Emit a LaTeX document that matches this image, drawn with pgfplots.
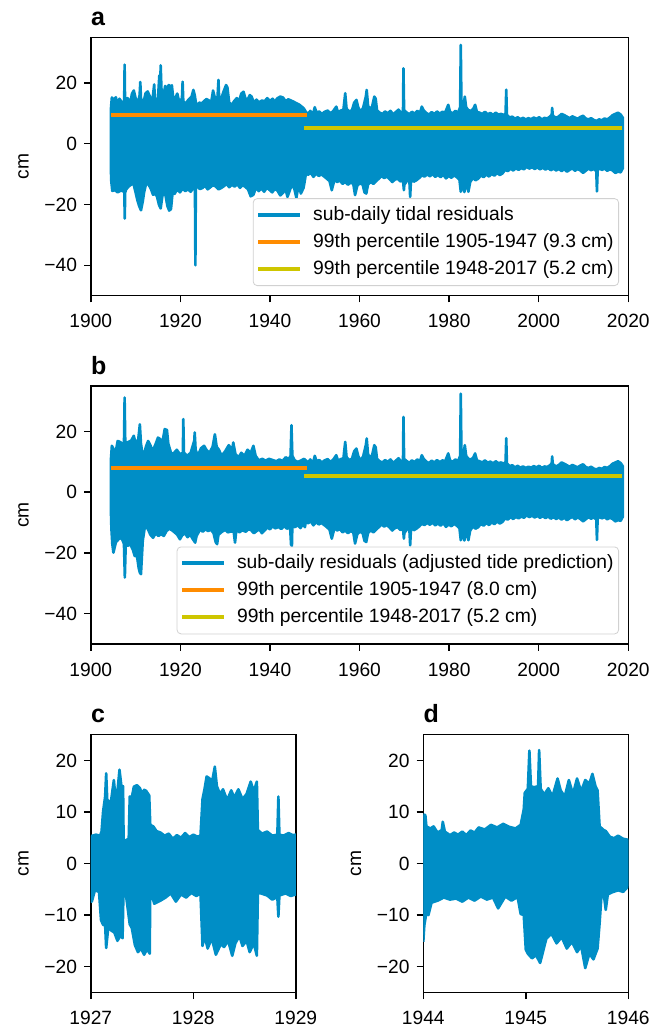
\documentclass[border=0pt]{standalone}
\usepackage{pgfplots}
\pgfplotsset{compat=1.18}
\usepackage{fontspec}
\setmainfont{Liberation Sans}
\definecolor{cblue}{RGB}{0,142,198}
\definecolor{corange}{RGB}{255,140,0}
\definecolor{cyellow}{RGB}{206,198,0}
\pgfplotsset{
  myax/.style={
    scale only axis,
    tick pos=left, tick align=outside,
    major tick length=3.35pt,
    every tick/.style={black, line width=0.75pt},
    axis line style={line width=0.75pt},
    tick label style={font=\fontsize{9.6}{11}\selectfont},
    xticklabel style={yshift=-2.5pt},
    label style={font=\fontsize{9.6}{11}\selectfont},
    ylabel={cm}, ylabel shift=1pt,
    title style={at={(axis description cs:0,1)}, anchor=base west, yshift=0pt, inner sep=0pt, font=\bfseries\fontsize{12.5}{14}\selectfont},
    legend cell align=left,
    legend image code/.code={\draw[##1] (0pt,0pt) -- (21pt,0pt);},
    legend style={draw=black!18, rounded corners=2pt, fill=white, fill opacity=0.8, text opacity=1, font=\fontsize{9.65}{11}\selectfont, inner xsep=1.5pt, inner ysep=1.5pt, column sep=4.5pt, nodes={inner xsep=1pt, inner ysep=2.5pt}},
  },
  blueenv/.style={draw=cblue, fill=cblue, line width=1.3pt, line join=round, forget plot},
}
\newcommand{\lt}[1]{\raisebox{0pt}[7pt][0pt]{#1}}
\begin{document}
\begin{tikzpicture}
\useasboundingbox (0pt,0pt) rectangle (326pt,-514.5pt);
% ---------------- panel a ----------------
\begin{axis}[myax, at={(45.4pt,-147.85pt)}, anchor=south west, width=268.75pt, height=129.2pt,
  xmin=1900, xmax=2020, ymin=-50, ymax=35,
  xtick={1900,1920,1940,1960,1980,2000,2020}, xticklabels={1900,1920,1940,1960,1980,2000,2020},
  ytick={-40,-20,0,20}, yticklabels={−40,−20,0,20}, title={a},
  legend style={at={(1,0)}, anchor=south east, xshift=-4.65pt, yshift=4.85pt}]
\addlegendimage{cblue, line width=2pt}
\addlegendimage{corange, line width=2pt}
\addlegendimage{cyellow, line width=2pt}
\addplot[blueenv] coordinates {
(1904.5,-8.7) (1904.5,11.6) (1904.7,15.2) (1905.2,14.5) (1905.6,15.3) (1906.0,12.5) (1906.4,14.8) (1907.0,13.5) (1907.45,14) (1907.55,26) (1907.65,14) (1908.2,15) (1908.8,13.5) (1909.2,16.5) (1909.6,17.5) (1910.0,15) (1910.5,13.2) (1910.9,16) (1911.05,20.3) (1911.2,15) (1911.7,13) (1912.2,16.5) (1912.7,17.2) (1913.2,15.5) (1913.7,13.5) (1914.15,19.5) (1914.35,14) (1915.0,15) (1915.3,22.5) (1915.45,16) (1915.6,25.8) (1915.8,17) (1916.2,15.5) (1916.6,19) (1917.0,18) (1917.4,19.3) (1917.8,18.8) (1918.1,19.2) (1918.4,15) (1918.8,14.8) (1919.3,16.5) (1919.8,13.5) (1920.35,15) (1920.5,20.4) (1920.65,14) (1921.2,13.2) (1921.8,14.5) (1922.5,15.5) (1922.9,17.7) (1923.2,16) (1923.6,12.2) (1924.2,13.5) (1924.8,13.3) (1925.3,14) (1925.8,14.7) (1926.4,14.2) (1926.9,13.8) (1927.3,17.5) (1927.8,14.5) (1928.3,15.5) (1928.5,21.0) (1928.65,15) (1929.1,14.7) (1929.6,17) (1930.2,19.3) (1930.5,18.5) (1930.9,13.5) (1931.5,12.8) (1932.0,14) (1932.6,15) (1933.1,14) (1933.6,16.5) (1934.1,17.1) (1934.5,15) (1935.0,14.5) (1935.5,16) (1935.9,15.5) (1936.4,13.5) (1937.0,14.5) (1937.5,13.6) (1938.2,14.2) (1938.8,14) (1939.4,15) (1940.0,14) (1940.6,14.8) (1941.1,13.8) (1941.6,14.9) (1942.3,15.5) (1942.9,15.2) (1943.5,14) (1944.1,14.6) (1944.7,14.2) (1945.3,13.8) (1945.9,13.3) (1946.5,12.9) (1947.1,12.2) (1947.6,11.5) (1948.0,10.5)
(1948.5,9.8) (1949.0,10.8) (1949.6,9.6) (1950.0,12.0) (1950.4,10.2) (1951.0,10.6) (1951.6,9.8) (1952.2,10.5) (1952.9,10.9) (1953.5,10.0) (1954.1,10.7) (1954.8,12.2) (1955.2,10.4) (1955.8,10.9) (1956.4,11.2) (1956.8,16.6) (1957.1,11.5) (1957.7,10.6) (1958.3,11.0) (1958.8,13.5) (1959.3,14.4) (1959.7,12) (1960.2,10.5) (1960.8,11.8) (1961.4,15.5) (1961.6,17.7) (1961.9,12.5) (1962.3,11.5) (1962.8,12.2) (1963.3,15.5) (1963.6,14.8) (1963.9,11) (1964.5,10.2) (1965.1,9.8) (1965.7,10.6) (1966.3,10) (1966.9,10.8) (1967.5,9.7) (1968.1,10.4) (1968.7,11.2) (1969.3,10.1) (1969.7,10.5) (1969.8,24.8) (1969.95,11) (1970.5,10.3) (1971.1,9.7) (1971.7,10.5) (1972.3,9.9) (1972.9,10.8) (1973.5,10.2) (1973.9,12.2) (1974.3,11) (1974.9,10.1) (1975.5,9.6) (1976.1,10.4) (1976.7,9.8) (1977.3,10.6) (1977.9,9.9) (1978.5,10.5) (1979.1,10.2) (1979.8,12.8) (1980.2,10.5) (1980.8,10.0) (1981.4,10.8) (1982.0,10.2) (1982.45,12) (1982.6,32.5) (1982.75,13) (1983.2,12.5) (1983.5,15.5) (1983.8,12) (1984.3,11) (1984.9,10.8) (1985.4,11.5) (1985.8,12.8) (1986.2,10.5) (1986.8,10.2) (1987.4,9.8) (1988.0,10.5) (1988.6,9.7) (1989.2,10.1) (1989.8,9.5) (1990.4,10.2) (1991.0,9.6) (1991.6,9.8) (1992.2,9.4) (1992.6,10) (1992.75,17.8) (1992.9,9.5) (1993.5,8.6) (1994.1,8.9) (1994.7,8.2) (1995.3,8.7) (1995.9,8.1) (1996.5,8.5) (1997.1,8.0) (1997.7,8.4) (1998.3,8.1) (1998.9,8.6) (1999.5,8.2) (2000.1,8.7) (2000.7,8.0) (2001.3,8.5) (2001.9,8.3) (2002.5,8.9) (2002.9,9.5) (2003.0,11.8) (2003.15,9.2) (2003.9,8.5) (2004.5,9.0) (2005.1,9.8) (2005.7,9.4) (2006.3,8.9) (2006.9,8.4) (2007.5,9.0) (2008.1,8.6) (2008.7,8.2) (2009.3,8.8) (2009.9,9.2) (2010.5,8.3) (2011.1,8.0) (2011.7,8.4) (2012.3,7.8) (2012.9,7.5) (2013.5,8.0) (2014.1,7.7) (2014.7,8.3) (2015.3,8.0) (2015.9,8.6) (2016.5,9.4) (2017.1,9.8) (2017.7,10.2) (2018.3,9.6) (2018.8,8.5)
(2018.8,-8) (2018.3,-9.4) (2017.7,-9.2) (2017.1,-9.6) (2016.5,-8.8) (2015.9,-8.4) (2015.3,-8.9) (2014.7,-8.2) (2014.1,-8.6) (2013.4,-8.0) (2013.15,-9) (2013.0,-15.7) (2012.85,-9) (2012.3,-8.3) (2011.7,-8.7) (2011.1,-8.2) (2010.5,-8.9) (2009.9,-9.6) (2009.3,-8.8) (2008.7,-8.3) (2008.1,-8.9) (2007.5,-8.1) (2006.9,-8.6) (2006.3,-9.2) (2005.7,-8.4) (2005.1,-9.0) (2004.5,-8.3) (2003.9,-8.8) (2003.3,-8.2) (2002.7,-8.7) (2002.1,-8.0) (2001.5,-8.5) (2000.9,-7.9) (2000.3,-8.4) (1999.7,-7.8) (1999.1,-8.3) (1998.5,-7.7) (1997.9,-8.2) (1997.3,-7.6) (1996.7,-8.4) (1996.1,-8.0) (1995.5,-8.6) (1994.9,-8.1) (1994.3,-8.8) (1993.7,-8.2) (1993.1,-9.0) (1992.5,-8.6) (1991.9,-9.8) (1991.3,-10.3) (1990.7,-9.6) (1990.1,-10.5) (1989.5,-9.9) (1988.9,-10.8) (1988.3,-10.1) (1987.7,-11.0) (1987.1,-10.4) (1986.5,-11.5) (1985.9,-12.0) (1985.3,-11.3) (1984.7,-12.6) (1984.3,-15.8) (1983.9,-12.5) (1983.4,-15.9) (1983.0,-13) (1982.6,-15.8) (1982.3,-11.8) (1981.7,-11.0) (1981.1,-10.4) (1980.5,-11.2) (1979.9,-10.6) (1979.3,-11.4) (1978.7,-10.2) (1978.1,-11.0) (1977.5,-10.3) (1976.9,-10.9) (1976.3,-10.0) (1975.7,-10.7) (1975.1,-10.1) (1974.5,-10.8) (1973.9,-10.4) (1973.3,-11.3) (1972.7,-12.0) (1972.1,-12.5) (1971.5,-11.5) (1971.3,-17.5) (1971.1,-11.5) (1970.6,-12.2) (1970.0,-13.5) (1969.9,-15.3) (1969.7,-12.0) (1969.1,-12.4) (1968.5,-11.5) (1967.9,-11.8) (1967.3,-12.6) (1966.7,-11.6) (1966.1,-10.8) (1965.5,-11.3) (1964.9,-10.6) (1964.3,-11.5) (1963.7,-12.3) (1963.1,-13.2) (1962.5,-12.6) (1961.9,-13.4) (1961.5,-16.4) (1961.1,-16.0) (1960.7,-13.5) (1960.1,-13.0) (1959.5,-13.8) (1959.0,-16.9) (1958.6,-13.2) (1958.0,-12.8) (1957.4,-13.5) (1956.8,-12.6) (1956.2,-13.2) (1955.6,-12.1) (1955.0,-12.6) (1954.4,-11.8) (1953.8,-15.3) (1953.3,-12.3) (1952.7,-11.5) (1952.1,-10.8) (1951.5,-10.1) (1950.9,-10.6) (1950.3,-9.8) (1949.7,-10.9) (1949.1,-9.6) (1948.5,-10.2) (1948.1,-9.0)
(1947.8,-12) (1947.5,-14.5) (1946.9,-16.4) (1946.4,-13.5) (1945.9,-17.8) (1945.4,-14.6) (1944.8,-13.8) (1944.2,-16.3) (1943.9,-17.5) (1943.5,-15.0) (1942.9,-16.2) (1942.3,-17.0) (1941.7,-15.5) (1941.1,-14.8) (1940.5,-16.0) (1939.9,-15.2) (1939.3,-14.5) (1938.7,-15.8) (1938.1,-14.7) (1937.5,-15.6) (1936.9,-14.4) (1936.3,-16.8) (1935.7,-17.3) (1935.1,-15.0) (1934.5,-14.2) (1933.9,-13.6) (1933.3,-14.5) (1932.7,-13.3) (1932.1,-14.1) (1931.5,-13.5) (1930.9,-14.3) (1930.3,-13.2) (1929.7,-14.0) (1929.1,-14.6) (1928.5,-15.0) (1927.9,-14.1) (1927.3,-13.6) (1926.7,-14.3) (1926.1,-15.0) (1925.5,-13.8) (1924.9,-14.6) (1924.3,-14.9) (1923.7,-13.5) (1923.45,-15) (1923.35,-40) (1923.25,-15) (1922.9,-14.5) (1922.3,-15.8) (1921.7,-15.0) (1921.1,-15.6) (1920.5,-14.8) (1919.9,-16.0) (1919.3,-15.0) (1918.7,-16.5) (1918.3,-15.5) (1917.9,-21.5) (1917.5,-22.0) (1917.1,-20.5) (1916.6,-16.3) (1916.0,-17.0) (1915.6,-21.3) (1915.2,-20.0) (1914.8,-17.5) (1914.4,-16.4) (1913.9,-16.8) (1913.4,-14.8) (1912.9,-13.5) (1912.4,-12.8) (1911.9,-16) (1911.6,-19) (1911.2,-21.9) (1910.8,-20.5) (1910.4,-18.6) (1910.0,-16) (1909.5,-13) (1909.0,-13.5) (1908.5,-14.0) (1907.9,-15) (1907.68,-16) (1907.58,-24.6) (1907.48,-16) (1907.1,-15.5) (1906.6,-15.5) (1906.0,-16.0) (1905.4,-15.3) (1904.8,-15.5) (1904.55,-12) (1904.5,-8.7)
};
\addplot[corange, line width=2pt, forget plot] coordinates {(1904.5,9.3) (1948.3,9.3)};
\addplot[cyellow, line width=2pt, forget plot] coordinates {(1947.7,5.2) (2018.5,5.2)};
\legend{\lt{sub-daily tidal residuals}, \lt{99th percentile 1905-1947 (9.3 cm)}, \lt{99th percentile 1948-2017 (5.2 cm)}}
\end{axis}
% ---------------- panel b ----------------
\begin{axis}[myax, at={(45.4pt,-322pt)}, anchor=south west, width=268.75pt, height=129pt,
  xmin=1900, xmax=2020, ymin=-50, ymax=35,
  xtick={1900,1920,1940,1960,1980,2000,2020}, xticklabels={1900,1920,1940,1960,1980,2000,2020},
  ytick={-40,-20,0,20}, yticklabels={−40,−20,0,20}, title={b},
  legend style={at={(1,0)}, anchor=south east, xshift=-4.65pt, yshift=4.85pt}]
\addlegendimage{cblue, line width=2pt}
\addlegendimage{corange, line width=2pt}
\addlegendimage{cyellow, line width=2pt}
\addplot[blueenv] coordinates {
(1904.5,-6.7) (1904.5,10.9) (1904.7,15.3) (1905.0,14.5) (1905.4,12) (1906.0,16.9) (1906.6,16.5) (1907.4,15.5) (1907.55,31.2) (1907.7,16) (1908.3,16.5) (1909.0,17) (1909.6,18.6) (1910.0,16) (1910.6,17.5) (1910.95,22.4) (1911.2,16) (1911.7,11) (1912.3,15) (1912.8,16.9) (1913.3,15.5) (1913.8,13.5) (1914.5,16) (1915.0,18) (1915.5,17.5) (1916.0,16.5) (1916.5,20.8) (1917.0,20.5) (1917.3,16) (1918.0,12.5) (1918.6,13) (1919.2,14) (1919.9,12.5) (1920.55,13) (1920.65,24.1) (1920.8,13) (1921.5,12) (1922.3,13) (1923.1,17) (1923.2,19.7) (1923.4,14) (1923.9,12) (1924.6,14.5) (1925.3,15.3) (1925.8,14) (1926.5,13) (1927.2,15) (1927.7,19.1) (1928.1,15) (1928.6,14) (1929.2,12) (1930.0,13.5) (1930.8,15.5) (1931.6,14) (1931.8,16.4) (1932.3,12.5) (1933.0,11.5) (1933.6,13) (1934.3,12) (1935.0,14) (1935.7,13) (1936.3,15.3) (1936.8,12) (1937.5,10.5) (1938.3,11) (1939.0,10.4) (1939.8,11) (1940.6,10.6) (1941.4,10.2) (1942.1,10.8) (1942.8,10.3) (1943.5,11.5) (1944.2,11) (1944.6,12) (1944.8,22.1) (1945.0,12) (1945.5,10.5) (1946.2,10) (1947.0,10.5) (1947.6,11) (1948.0,10.5)
(1948.5,9.8) (1949.0,10.8) (1949.6,9.6) (1950.0,12.0) (1950.4,10.2) (1951.0,10.6) (1951.6,9.8) (1952.2,10.5) (1952.9,10.9) (1953.5,10.0) (1954.1,10.7) (1954.8,12.2) (1955.2,10.4) (1955.8,10.9) (1956.4,11.2) (1956.8,16.6) (1957.1,11.5) (1957.7,10.6) (1958.3,11.0) (1958.8,13.5) (1959.3,14.4) (1959.7,12) (1960.2,10.5) (1960.8,11.8) (1961.4,15.5) (1961.6,17.7) (1961.9,12.5) (1962.3,11.5) (1962.8,12.2) (1963.3,15.5) (1963.6,14.8) (1963.9,11) (1964.5,10.2) (1965.1,9.8) (1965.7,10.6) (1966.3,10) (1966.9,10.8) (1967.5,9.7) (1968.1,10.4) (1968.7,11.2) (1969.3,10.1) (1969.7,10.5) (1969.8,24.8) (1969.95,11) (1970.5,10.3) (1971.1,9.7) (1971.7,10.5) (1972.3,9.9) (1972.9,10.8) (1973.5,10.2) (1973.9,12.2) (1974.3,11) (1974.9,10.1) (1975.5,9.6) (1976.1,10.4) (1976.7,9.8) (1977.3,10.6) (1977.9,9.9) (1978.5,10.5) (1979.1,10.2) (1979.8,12.8) (1980.2,10.5) (1980.8,10.0) (1981.4,10.8) (1982.0,10.2) (1982.45,12) (1982.6,32.5) (1982.75,13) (1983.2,12.5) (1983.5,15.5) (1983.8,12) (1984.3,11) (1984.9,10.8) (1985.4,11.5) (1985.8,12.8) (1986.2,10.5) (1986.8,10.2) (1987.4,9.8) (1988.0,10.5) (1988.6,9.7) (1989.2,10.1) (1989.8,9.5) (1990.4,10.2) (1991.0,9.6) (1991.6,9.8) (1992.2,9.4) (1992.6,10) (1992.75,17.8) (1992.9,9.5) (1993.5,8.6) (1994.1,8.9) (1994.7,8.2) (1995.3,8.7) (1995.9,8.1) (1996.5,8.5) (1997.1,8.0) (1997.7,8.4) (1998.3,8.1) (1998.9,8.6) (1999.5,8.2) (2000.1,8.7) (2000.7,8.0) (2001.3,8.5) (2001.9,8.3) (2002.5,8.9) (2002.9,9.5) (2003.0,11.8) (2003.15,9.2) (2003.9,8.5) (2004.5,9.0) (2005.1,9.8) (2005.7,9.4) (2006.3,8.9) (2006.9,8.4) (2007.5,9.0) (2008.1,8.6) (2008.7,8.2) (2009.3,8.8) (2009.9,9.2) (2010.5,8.3) (2011.1,8.0) (2011.7,8.4) (2012.3,7.8) (2012.9,7.5) (2013.5,8.0) (2014.1,7.7) (2014.7,8.3) (2015.3,8.0) (2015.9,8.6) (2016.5,9.4) (2017.1,9.8) (2017.7,10.2) (2018.3,9.6) (2018.8,8.5)
(2018.8,-8) (2018.3,-9.4) (2017.7,-9.2) (2017.1,-9.6) (2016.5,-8.8) (2015.9,-8.4) (2015.3,-8.9) (2014.7,-8.2) (2014.1,-8.6) (2013.4,-8.0) (2013.15,-9) (2013.0,-15.7) (2012.85,-9) (2012.3,-8.3) (2011.7,-8.7) (2011.1,-8.2) (2010.5,-8.9) (2009.9,-9.6) (2009.3,-8.8) (2008.7,-8.3) (2008.1,-8.9) (2007.5,-8.1) (2006.9,-8.6) (2006.3,-9.2) (2005.7,-8.4) (2005.1,-9.0) (2004.5,-8.3) (2003.9,-8.8) (2003.3,-8.2) (2002.7,-8.7) (2002.1,-8.0) (2001.5,-8.5) (2000.9,-7.9) (2000.3,-8.4) (1999.7,-7.8) (1999.1,-8.3) (1998.5,-7.7) (1997.9,-8.2) (1997.3,-7.6) (1996.7,-8.4) (1996.1,-8.0) (1995.5,-8.6) (1994.9,-8.1) (1994.3,-8.8) (1993.7,-8.2) (1993.1,-9.0) (1992.5,-8.6) (1991.9,-9.8) (1991.3,-10.3) (1990.7,-9.6) (1990.1,-10.5) (1989.5,-9.9) (1988.9,-10.8) (1988.3,-10.1) (1987.7,-11.0) (1987.1,-10.4) (1986.5,-11.5) (1985.9,-12.0) (1985.3,-11.3) (1984.7,-12.6) (1984.3,-15.8) (1983.9,-12.5) (1983.4,-15.9) (1983.0,-13) (1982.6,-15.8) (1982.3,-11.8) (1981.7,-11.0) (1981.1,-10.4) (1980.5,-11.2) (1979.9,-10.6) (1979.3,-11.4) (1978.7,-10.2) (1978.1,-11.0) (1977.5,-10.3) (1976.9,-10.9) (1976.3,-10.0) (1975.7,-10.7) (1975.1,-10.1) (1974.5,-10.8) (1973.9,-10.4) (1973.3,-11.3) (1972.7,-12.0) (1972.1,-12.5) (1971.5,-11.5) (1971.3,-17.5) (1971.1,-11.5) (1970.6,-12.2) (1970.0,-13.5) (1969.9,-15.3) (1969.7,-12.0) (1969.1,-12.4) (1968.5,-11.5) (1967.9,-11.8) (1967.3,-12.6) (1966.7,-11.6) (1966.1,-10.8) (1965.5,-11.3) (1964.9,-10.6) (1964.3,-11.5) (1963.7,-12.3) (1963.1,-13.2) (1962.5,-12.6) (1961.9,-13.4) (1961.5,-16.4) (1961.1,-16.0) (1960.7,-13.5) (1960.1,-13.0) (1959.5,-13.8) (1959.0,-16.9) (1958.6,-13.2) (1958.0,-12.8) (1957.4,-13.5) (1956.8,-12.6) (1956.2,-13.2) (1955.6,-12.1) (1955.0,-12.6) (1954.4,-11.8) (1953.8,-15.3) (1953.3,-12.3) (1952.7,-11.5) (1952.1,-10.8) (1951.5,-10.1) (1950.9,-10.6) (1950.3,-9.8) (1949.7,-10.9) (1949.1,-9.6) (1948.5,-10.2) (1948.1,-9.0)
(1947.8,-11.5) (1947.4,-10.5) (1946.8,-11.8) (1946.2,-10.8) (1945.6,-11.5) (1945.0,-11.0) (1944.9,-17.7) (1944.7,-17.2) (1944.5,-11.5) (1943.8,-12.0) (1943.2,-11.2) (1942.5,-12.1) (1941.9,-11.4) (1941.2,-11.9) (1940.6,-11.2) (1940.0,-12.2) (1939.4,-11.6) (1938.8,-12.6) (1938.2,-13.5) (1937.6,-12.2) (1937.0,-12.8) (1936.4,-13.5) (1935.8,-12.5) (1935.2,-12.2) (1934.6,-13.0) (1933.8,-12.5) (1933.2,-13.2) (1932.5,-12.3) (1932.2,-16.6) (1931.9,-13.0) (1931.3,-12.9) (1930.6,-13.2) (1930.0,-12.4) (1929.3,-13.0) (1928.5,-14.0) (1928.2,-17.1) (1927.9,-16.5) (1927.4,-13.5) (1926.8,-12.3) (1926.2,-12.8) (1925.6,-12.2) (1925.0,-13.0) (1924.4,-12.2) (1923.6,-14.5) (1923.3,-16.6) (1922.8,-15.5) (1922.2,-14.0) (1921.6,-14.8) (1921.0,-13.5) (1920.4,-14.2) (1919.9,-15.5) (1919.3,-14.0) (1918.7,-13.2) (1918.1,-12.5) (1917.5,-12.0) (1916.9,-12.8) (1916.3,-14.4) (1915.7,-13.8) (1915.1,-14.4) (1914.5,-13.5) (1913.9,-15.0) (1913.3,-14.0) (1912.7,-12.0) (1912.1,-11.1) (1911.6,-16) (1911.2,-27.0) (1910.95,-26.5) (1910.7,-25) (1910.3,-21.0) (1909.8,-21.0) (1909.4,-19) (1909.0,-17.7) (1908.6,-17.2) (1908.2,-17.7) (1907.8,-17) (1907.6,-28.1) (1907.4,-17) (1907.0,-15.5) (1906.6,-15.0) (1906.2,-15.5) (1905.6,-16.5) (1905.05,-19.9) (1904.8,-17) (1904.6,-12) (1904.5,-6.7)
};
\addplot[corange, line width=2pt, forget plot] coordinates {(1904.5,8.0) (1948.3,8.0)};
\addplot[cyellow, line width=2pt, forget plot] coordinates {(1947.7,5.2) (2018.5,5.2)};
\legend{\lt{sub-daily residuals (adjusted tide prediction)}, \lt{99th percentile 1905-1947 (8.0 cm)}, \lt{99th percentile 1948-2017 (5.2 cm)}}
\end{axis}
% ---------------- panel c ----------------
\begin{axis}[myax, at={(45.4pt,-496.15pt)}, anchor=south west, width=102.5pt, height=128.8pt,
  xmin=1927, xmax=1929, ymin=-25, ymax=25,
  xtick={1927,1928,1929}, xticklabels={1927,1928,1929},
  ytick={-20,-10,0,10,20}, yticklabels={−20,−10,0,10,20}, title={c}]
\addplot[blueenv] coordinates {
(1927.0,-7.4) (1927.0,5.3) (1927.05,5.6) (1927.09,5.4) (1927.105,6.2) (1927.12,10.1) (1927.14,13) (1927.15,17.5) (1927.16,12.5) (1927.18,11.5) (1927.2,12.5) (1927.225,16.2) (1927.24,13) (1927.26,14) (1927.28,18.2) (1927.30,14.8) (1927.315,15) (1927.32,4.3) (1927.35,4.6) (1927.37,4.8) (1927.38,13) (1927.40,12.8) (1927.42,14.9) (1927.45,15.2) (1927.48,14.6) (1927.50,13.4) (1927.52,14.3) (1927.54,14.1) (1927.57,13.2) (1927.58,7.5) (1927.61,7.2) (1927.64,6.3) (1927.68,6.0) (1927.72,5.4) (1927.76,5.8) (1927.80,4.8) (1927.84,5.5) (1927.88,5.0) (1927.92,5.9) (1927.96,5.1) (1928.0,5.6) (1928.04,5.2) (1928.07,5.4) (1928.09,12.5) (1928.11,14.5) (1928.13,16.9) (1928.16,16.5) (1928.18,15.5) (1928.21,18.8) (1928.23,15) (1928.26,13.5) (1928.29,14.4) (1928.33,12.3) (1928.37,14.2) (1928.40,12.8) (1928.44,14.4) (1928.48,12.5) (1928.52,13.5) (1928.56,15.9) (1928.59,14) (1928.62,15.9) (1928.63,6.5) (1928.67,5.8) (1928.72,6.2) (1928.77,5.4) (1928.82,5.6) (1928.83,13.0) (1928.84,5.6) (1928.88,5.4) (1928.93,5.9) (1928.97,5.5) (1929.0,5.6)
(1929.0,-6.0) (1928.95,-6.3) (1928.9,-5.8) (1928.84,-6.2) (1928.83,-10.3) (1928.82,-6.5) (1928.77,-7.0) (1928.72,-6.2) (1928.66,-5.8) (1928.63,-5.7) (1928.62,-17.9) (1928.59,-15.5) (1928.55,-17.2) (1928.52,-15.0) (1928.48,-16.0) (1928.45,-14.1) (1928.41,-15.5) (1928.38,-17.9) (1928.34,-15.0) (1928.30,-16.2) (1928.27,-15.6) (1928.22,-17.7) (1928.18,-14.5) (1928.14,-16.5) (1928.11,-14.0) (1928.09,-16.0) (1928.07,-5.8) (1928.03,-6.3) (1927.98,-5.7) (1927.93,-6.6) (1927.88,-6.0) (1927.83,-7.4) (1927.78,-5.8) (1927.73,-6.6) (1927.68,-7.2) (1927.62,-7.8) (1927.58,-5.4) (1927.575,-17.5) (1927.55,-16.6) (1927.52,-17.7) (1927.49,-16.5) (1927.46,-17.2) (1927.43,-15.8) (1927.40,-12.5) (1927.38,-11.8) (1927.33,-4.1) (1927.32,-4.1) (1927.31,-14.5) (1927.29,-14.0) (1927.26,-15.0) (1927.23,-13.4) (1927.2,-13.0) (1927.17,-12.5) (1927.15,-16.4) (1927.14,-12.0) (1927.12,-11.9) (1927.10,-11.0) (1927.08,-5.5) (1927.04,-5.2) (1927.01,-7.4) (1927.0,-7.4)
};
\end{axis}
% ---------------- panel d ----------------
\begin{axis}[myax, at={(211.65pt,-496.15pt)}, anchor=south west, width=102.5pt, height=128.8pt,
  xmin=1944, xmax=1946, ymin=-25, ymax=25,
  xtick={1944,1945,1946}, xticklabels={1944,1945,1946},
  ytick={-20,-10,0,10,20}, yticklabels={−20,−10,0,10,20}, title={d}]
\addplot[blueenv] coordinates {
(1944.0,-15.2) (1944.0,9.5) (1944.02,9.4) (1944.03,7.2) (1944.07,6.8) (1944.1,7.2) (1944.14,6.0) (1944.18,6.5) (1944.19,8.1) (1944.21,6.2) (1944.26,5.5) (1944.3,6.0) (1944.34,5.6) (1944.38,6.2) (1944.42,5.5) (1944.46,6.4) (1944.5,6.0) (1944.54,7.0) (1944.6,6.6) (1944.66,7.5) (1944.72,7.0) (1944.78,7.7) (1944.84,7.1) (1944.9,6.8) (1944.95,7.5) (1944.98,10.5) (1944.99,13.7) (1945.02,14.5) (1945.035,21.9) (1945.05,15) (1945.08,14.8) (1945.12,15) (1945.13,22.0) (1945.145,14.5) (1945.18,13.4) (1945.22,14.6) (1945.26,13.0) (1945.31,16.5) (1945.34,14.2) (1945.38,13.0) (1945.42,16.2) (1945.46,13.5) (1945.5,16.5) (1945.54,14.0) (1945.58,16.2) (1945.62,15.5) (1945.65,17.4) (1945.68,15.0) (1945.70,14.2) (1945.72,7.2) (1945.76,6.5) (1945.78,6.3) (1945.82,5.2) (1945.86,4.9) (1945.9,5.4) (1945.95,4.8) (1946.0,4.6)
(1946.0,-4.4) (1945.95,-5.5) (1945.9,-5.2) (1945.84,-5.6) (1945.8,-6.0) (1945.78,-9.0) (1945.76,-5.8) (1945.74,-5.7) (1945.72,-11.6) (1945.70,-16.5) (1945.66,-18.6) (1945.62,-17.5) (1945.58,-20.3) (1945.54,-16.0) (1945.5,-17.2) (1945.45,-15.2) (1945.4,-16.5) (1945.35,-14.3) (1945.3,-15.5) (1945.25,-13.6) (1945.2,-14.6) (1945.14,-19.3) (1945.1,-17.8) (1945.06,-18.4) (1945.02,-17.5) (1945.0,-16.7) (1944.98,-10.0) (1944.95,-9.8) (1944.92,-6.5) (1944.86,-7.2) (1944.8,-6.4) (1944.73,-8.7) (1944.68,-6.6) (1944.62,-7.0) (1944.56,-6.4) (1944.5,-7.2) (1944.44,-6.6) (1944.38,-7.4) (1944.32,-6.8) (1944.26,-7.0) (1944.2,-6.6) (1944.14,-7.2) (1944.08,-7.6) (1944.05,-10.0) (1944.03,-9.6) (1944.01,-12) (1944.0,-15.2)
};
\end{axis}
\end{tikzpicture}
\end{document}
